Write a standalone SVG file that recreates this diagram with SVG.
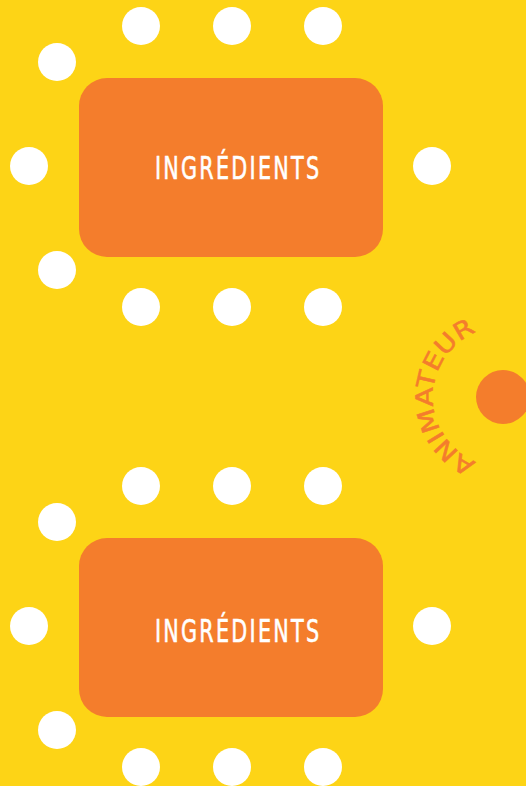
<svg xmlns="http://www.w3.org/2000/svg" xmlns:xlink="http://www.w3.org/1999/xlink" width="526" height="786" viewBox="0 0 526 786">
<defs>
<style>
.seat{fill:#FFFFFF}
.table{fill:#F47D2C}
.lbl{fill:#FFFFFF;font-family:"DejaVu Sans Condensed","Liberation Sans",sans-serif;font-size:32px;text-anchor:middle;stroke:#FFFFFF;stroke-width:0.6px}
.anim{fill:#F47D2C;font-family:"DejaVu Sans Condensed","Liberation Sans",sans-serif;font-size:24px;stroke:#F47D2C;stroke-width:0.5px}
</style>
<path id="arc" d="M 503 467 A 70 70 0 0 1 503 327"/>
</defs>
<rect width="526" height="786" fill="#FDD416"/>
<g id="table1">
<rect class="table" x="79" y="78" width="304" height="179" rx="28"/>
<text class="lbl" transform="translate(237,179) scale(0.72,1)" x="0" y="0" textLength="228" lengthAdjust="spacing">INGRÉDIENTS</text>
</g>
<g id="seats1">
<circle class="seat" cx="141" cy="26" r="19"/>
<circle class="seat" cx="232" cy="26" r="19"/>
<circle class="seat" cx="323" cy="26" r="19"/>
<circle class="seat" cx="141" cy="307" r="19"/>
<circle class="seat" cx="232" cy="307" r="19"/>
<circle class="seat" cx="323" cy="307" r="19"/>
<circle class="seat" cx="57" cy="62" r="19"/>
<circle class="seat" cx="29" cy="166" r="19"/>
<circle class="seat" cx="57" cy="270" r="19"/>
<circle class="seat" cx="432" cy="166" r="19"/>
</g>
<g id="table2">
<rect class="table" x="79" y="538" width="304" height="179" rx="28"/>
<text class="lbl" transform="translate(237,642) scale(0.72,1)" x="0" y="0" textLength="228" lengthAdjust="spacing">INGRÉDIENTS</text>
</g>
<g id="seats2">
<circle class="seat" cx="141" cy="486" r="19"/>
<circle class="seat" cx="232" cy="486" r="19"/>
<circle class="seat" cx="323" cy="486" r="19"/>
<circle class="seat" cx="141" cy="767" r="19"/>
<circle class="seat" cx="232" cy="767" r="19"/>
<circle class="seat" cx="323" cy="767" r="19"/>
<circle class="seat" cx="57" cy="522" r="19"/>
<circle class="seat" cx="29" cy="626" r="19"/>
<circle class="seat" cx="57" cy="730" r="19"/>
<circle class="seat" cx="432" cy="626" r="19"/>
</g>
<g id="animateur">
<circle class="table" cx="503" cy="397" r="27"/>
<text class="anim" font-size="24"><textPath xlink:href="#arc" href="#arc" startOffset="50%" text-anchor="middle" textLength="165" lengthAdjust="spacingAndGlyphs">ANIMATEUR</textPath></text>
</g>
</svg>
